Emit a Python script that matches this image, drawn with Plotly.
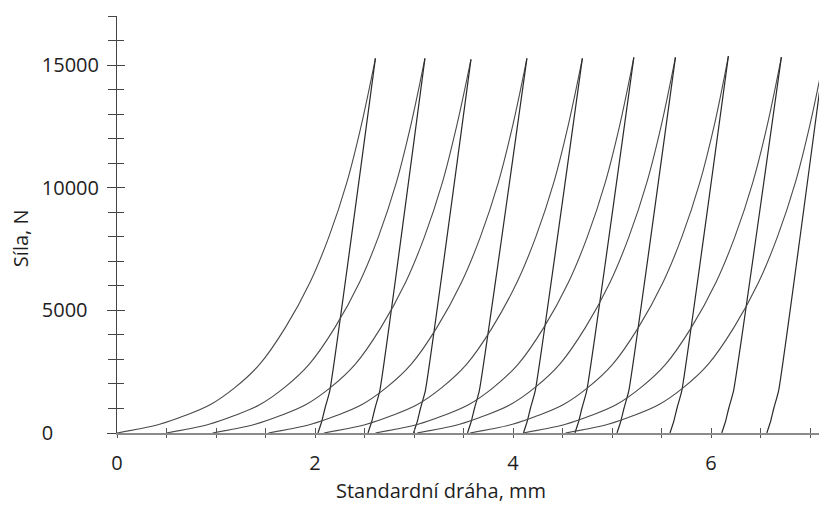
import plotly.graph_objects as go

# ---------------- data ----------------
# force levels of the loading branches, N (the peak force of each cycle is appended)
LOAD_F = [0, 150, 355, 700, 1150, 1850, 2800, 4300, 6150, 8000, 10200, 12600]

# loading branches: displacement (mm) at each LOAD_F level, last point = peak
LOAD_X = [
    [0.00, 0.20, 0.43, 0.68, 0.94, 1.19, 1.44, 1.70, 1.95, 2.14, 2.32, 2.47, 2.61],
    [0.50, 0.70, 0.93, 1.18, 1.44, 1.69, 1.94, 2.20, 2.45, 2.64, 2.82, 2.97, 3.11],
    [0.965, 1.165, 1.395, 1.645, 1.905, 2.155, 2.405, 2.665, 2.915, 3.105, 3.285, 3.435, 3.575],
    [1.53, 1.73, 1.96, 2.21, 2.47, 2.72, 2.97, 3.23, 3.48, 3.67, 3.85, 4.00, 4.14],
    [2.09, 2.29, 2.52, 2.77, 3.03, 3.28, 3.53, 3.79, 4.04, 4.23, 4.41, 4.56, 4.70],
    [2.61, 2.81, 3.04, 3.29, 3.55, 3.80, 4.05, 4.31, 4.56, 4.75, 4.93, 5.08, 5.22],
    [3.03, 3.23, 3.46, 3.71, 3.97, 4.22, 4.47, 4.73, 4.98, 5.17, 5.35, 5.50, 5.64],
    [3.565, 3.765, 3.995, 4.245, 4.505, 4.755, 5.005, 5.265, 5.515, 5.705, 5.885, 6.035, 6.175],
    [4.10, 4.30, 4.53, 4.78, 5.04, 5.29, 5.54, 5.80, 6.05, 6.24, 6.42, 6.57, 6.71],
    [4.53, 4.73, 4.96, 5.21, 5.47, 5.72, 5.97, 6.23, 6.48, 6.67, 6.85, 7.00, 7.14],
]
# peak force of each cycle, N
PEAK_F = [15280, 15280, 15240, 15280, 15280, 15320, 15320, 15375, 15330, 15300]

# unloading branches: force levels below the peak, N
UNLOAD_F = [1743, 1000, 500, 0]
# displacement (mm) at the peak and at each UNLOAD_F level
UNLOAD_X = [
    [2.61, 2.15, 2.10, 2.07, 2.03],
    [3.11, 2.655, 2.605, 2.575, 2.535],
    [3.575, 3.115, 3.065, 3.035, 2.995],
    [4.14, 3.66, 3.61, 3.58, 3.54],
    [4.70, 4.225, 4.175, 4.145, 4.105],
    [5.22, 4.745, 4.695, 4.665, 4.625],
    [5.64, 5.17, 5.12, 5.09, 5.05],
    [6.175, 5.705, 5.655, 5.625, 5.585],
    [6.71, 6.228, 6.178, 6.148, 6.108],
    [7.14, 6.683, 6.633, 6.603, 6.563],
]

X_TICKS = [0, 2, 4, 6]
Y_TICKS = [0, 5000, 10000, 15000]
Y_TICK_TEXT = ["0\u2007\u2007\u2007\u2007", "5000\u2007", "10000", "15000"]

X_TITLE = "Standardní dráha, mm"
Y_TITLE = "Síla, N"

# ---------------- figure ----------------
FONT = "Open Sans"
LOAD_COL = "#4a4a4a"
UNLOAD_COL = "#2a2a2a"
TXT_COL = "#1e1e1e"

fig = go.Figure()
for i in range(len(LOAD_X)):
    fig.add_trace(go.Scatter(
        x=LOAD_X[i], y=LOAD_F + [PEAK_F[i]], mode="lines",
        line=dict(color=LOAD_COL, width=1.1, shape="spline", smoothing=1.0),
        showlegend=False, hoverinfo="skip"))
    fig.add_trace(go.Scatter(
        x=UNLOAD_X[i], y=[PEAK_F[i]] + UNLOAD_F, mode="lines",
        line=dict(color=UNLOAD_COL, width=1.2, shape="spline", smoothing=0.4),
        showlegend=False, hoverinfo="skip"))

# empty trace so the overlay axes (used for crossing ticks) are drawn
fig.add_trace(go.Scatter(x=[None], y=[None], xaxis="x2", yaxis="y2",
                         showlegend=False, hoverinfo="skip"))

XR = [0, 7.09]
YR = [0, 17010]

fig.update_layout(
    width=819, height=505,
    margin=dict(l=117, r=0, t=16, b=72),
    paper_bgcolor="white", plot_bgcolor="white",
    font=dict(family=FONT, size=20, color=TXT_COL),
    xaxis=dict(range=XR, showgrid=False, zeroline=False,
               showline=True, linecolor="#8a8a8a", linewidth=1.5,
               tickvals=X_TICKS, ticks="outside", ticklen=3, tickcolor="#555",
               minor=dict(dtick=0.5, tick0=0, ticks="outside", ticklen=3, tickcolor="#555"),
               ticklabelstandoff=8, tickfont=dict(size=20)),
    xaxis2=dict(range=XR, overlaying="x", anchor="y2", side="bottom",
                showgrid=False, zeroline=False, showline=False,
                tickvals=X_TICKS, ticks="inside", ticklen=5, tickcolor="#555",
                minor=dict(dtick=0.5, tick0=0, ticks="inside", ticklen=5, tickcolor="#555"),
                showticklabels=False),
    yaxis=dict(range=YR, showgrid=False, zeroline=False,
               showline=True, linecolor="#444", linewidth=1,
               tickvals=Y_TICKS, ticktext=Y_TICK_TEXT,
               ticks="outside", ticklen=9, tickcolor="#444",
               minor=dict(dtick=1000, tick0=0, ticks="outside", ticklen=8, tickcolor="#444"),
               ticklabelstandoff=4, tickfont=dict(size=20)),
    yaxis2=dict(range=YR, overlaying="y", anchor="x2", side="left",
                showgrid=False, zeroline=False, showline=False,
                tickvals=Y_TICKS, ticks="inside", ticklen=8, tickcolor="#444",
                minor=dict(dtick=1000, tick0=0, ticks="inside", ticklen=7, tickcolor="#444"),
                showticklabels=False),
    annotations=[
        dict(text=X_TITLE, xref="paper", yref="paper", x=0.4615, y=-0.139,
             xanchor="center", yanchor="middle", showarrow=False,
             font=dict(family=FONT, size=20, color=TXT_COL)),
        dict(text=Y_TITLE, xref="paper", yref="paper", x=-0.138, y=0.4676,
             xanchor="center", yanchor="middle", showarrow=False, textangle=-90,
             font=dict(family=FONT, size=20, color=TXT_COL)),
    ],
)

# remove the default 8 px page margin so the figure fills the window exactly
fig.write_html("out.html",
               config={"displayModeBar": False},
               post_script="document.body.style.margin='0';"
                           "document.body.style.overflow='hidden';")
